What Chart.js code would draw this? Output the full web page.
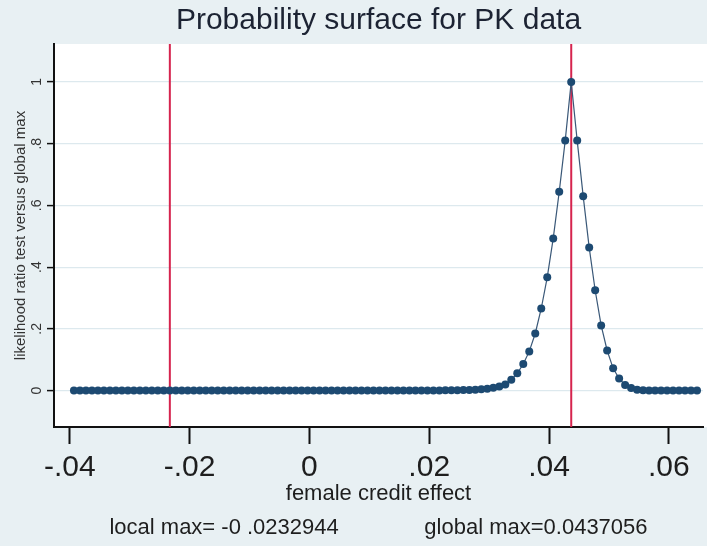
<!DOCTYPE html>
<html>
<head>
<meta charset="utf-8">
<script src="https://cdn.jsdelivr.net/npm/chart.js@4.4.0/dist/chart.umd.min.js"></script>
<style>
  html, body { margin: 0; padding: 0; background: #e8f0f3; }
  canvas { display: block; }
</style>
</head>
<body>
<canvas id="chart" width="707" height="546"></canvas>
<script>
// values
const effect = [
    -0.0393, -0.0383, -0.0373, -0.0363, -0.0353, -0.0343, -0.0333, -0.0323, -0.0313, -0.0303,
    -0.0293, -0.0283, -0.0273, -0.0263, -0.0253, -0.0243, -0.0233, -0.0223, -0.0213, -0.0203,
    -0.0193, -0.0183, -0.0173, -0.0163, -0.0153, -0.0143, -0.0133, -0.0123, -0.0113, -0.0103,
    -0.0093, -0.0083, -0.0073, -0.0063, -0.0053, -0.0043, -0.0033, -0.0023, -0.0013, -0.0003,
    0.0007, 0.0017, 0.0027, 0.0037, 0.0047, 0.0057, 0.0067, 0.0077, 0.0087, 0.0097,
    0.0107, 0.0117, 0.0127, 0.0137, 0.0147, 0.0157, 0.0167, 0.0177, 0.0187, 0.0197,
    0.0207, 0.0217, 0.0227, 0.0237, 0.0247, 0.0257, 0.0267, 0.0277, 0.0287, 0.0297,
    0.0307, 0.0317, 0.0327, 0.0337, 0.0347, 0.0357, 0.0367, 0.0377, 0.0387, 0.0397,
    0.0407, 0.0417, 0.0427, 0.0437, 0.0447, 0.0457, 0.0467, 0.0477, 0.0487, 0.0497,
    0.0507, 0.0517, 0.0527, 0.0537, 0.0547, 0.0557, 0.0567, 0.0577, 0.0587, 0.0597,
    0.0607, 0.0617, 0.0627, 0.0637, 0.0647
];
const lrTest = [
    0, 0, 0, 0, 0, 0, 0, 0, 0, 0,
    0, 0, 0, 0, 0, 0, 0, 0, 0, 0,
    0, 0, 0, 0, 0, 0, 0, 0, 0, 0,
    0, 0, 0, 0, 0, 0, 0, 0, 0, 0,
    0, 0, 0, 0, 0, 0, 0, 0, 0, 0,
    0, 0, 0, 0, 0, 0.0001, 0.0001, 0.0002, 0.0003, 0.0004,
    0.0005, 0.0006, 0.0007, 0.0008, 0.001, 0.0015, 0.002, 0.003, 0.004, 0.006,
    0.009, 0.013, 0.02, 0.035, 0.056, 0.086, 0.127, 0.185, 0.266, 0.367,
    0.493, 0.644, 0.81, 1, 0.81, 0.63, 0.464, 0.325, 0.211, 0.13,
    0.072, 0.039, 0.018, 0.008, 0.003, 0.0012, 0.0005, 0.0002, 0, 0,
    0, 0, 0, 0, 0
];
const localMax = -0.0232944;
const globalMax = 0.0437056;
const xTicks = [-0.04, -0.02, 0, 0.02, 0.04, 0.06];
const xTickLabels = ['-.04', '-.02', '0', '.02', '.04', '.06'];
const yTicks = [0, 0.2, 0.4, 0.6, 0.8, 1];
const yTickLabels = ['0', '.2', '.4', '.6', '.8', '1'];

const X_MIN = -0.04263, X_MAX = 0.0657;
const Y_MIN = -0.118, Y_MAX = 1.123;

// grey outer background, white plot region
const backgrounds = {
    id: 'backgrounds',
    beforeDraw(chart) {
        const { ctx, chartArea: a } = chart;
        ctx.save();
        ctx.fillStyle = '#e8f0f3';
        ctx.fillRect(0, 0, chart.width, chart.height);
        ctx.fillStyle = '#ffffff';
        ctx.fillRect(a.left, a.top, chart.width - a.left, a.bottom - a.top);
        ctx.restore();
    }
};

const vline = (x) => [{ x: x, y: Y_MIN }, { x: x, y: Y_MAX }];

new Chart(document.getElementById('chart'), {
    type: 'scatter',
    data: {
        datasets: [
            {
                data: effect.map((x, i) => ({ x: x, y: lrTest[i] })),
                showLine: true,
                borderColor: '#3a5878',
                borderWidth: 1.2,
                pointRadius: 4,
                pointBorderWidth: 0,
                pointBackgroundColor: '#1d4a72'
            },
            {
                data: vline(localMax),
                showLine: true,
                borderColor: '#d6244e',
                borderWidth: 2,
                pointRadius: 0
            },
            {
                data: vline(globalMax),
                showLine: true,
                borderColor: '#d6244e',
                borderWidth: 2,
                pointRadius: 0
            }
        ]
    },
    options: {
        responsive: false,
        devicePixelRatio: 1,
        animation: false,
        layout: { padding: 0 },
        plugins: {
            legend: { display: false },
            tooltip: { enabled: false },
            title: {
                display: true,
                text: 'Probability surface for PK data',
                fullSize: false,
                color: '#1c2333',
                font: { family: 'Liberation Sans, Arial, sans-serif', size: 30, weight: 'normal' },
                padding: { top: 3, bottom: 5 }
            },
            subtitle: {
                display: true,
                position: 'bottom',
                fullSize: false,
                text: 'local max= -0 .0232944\u00a0\u00a0\u00a0\u00a0\u00a0\u00a0\u00a0\u00a0\u00a0\u00a0\u00a0\u00a0\u00a0\u00a0global max=0.0437056',
                color: '#1e1e1e',
                font: { family: 'Liberation Sans, Arial, sans-serif', size: 22 },
                padding: { top: 3, bottom: 5 }
            }
        },
        scales: {
            x: {
                type: 'linear',
                min: X_MIN,
                max: X_MAX,
                afterFit(scale) { scale.height = 84.6; },
                afterBuildTicks(axis) { axis.ticks = xTicks.map(v => ({ value: v })); },
                border: { color: '#111', width: 2 },
                grid: {
                    drawOnChartArea: false,
                    tickColor: '#111',
                    tickLength: 17,
                    tickWidth: 2
                },
                ticks: {
                    autoSkip: false,
                    maxRotation: 0,
                    padding: 6,
                    color: '#1e1e1e',
                    font: { family: 'Liberation Sans, Arial, sans-serif', size: 30 },
                    callback: (v) => xTickLabels[xTicks.indexOf(v)]
                },
                title: {
                    display: true,
                    text: 'female credit effect',
                    color: '#1e1e1e',
                    font: { family: 'Liberation Sans, Arial, sans-serif', size: 22 },
                    padding: { top: 0, bottom: 4 }
                }
            },
            y: {
                type: 'linear',
                min: Y_MIN,
                max: Y_MAX,
                afterFit(scale) { scale.width = 54; },
                afterBuildTicks(axis) { axis.ticks = yTicks.map(v => ({ value: v })); },
                border: { color: '#111', width: 2 },
                grid: {
                    color: '#dde9ee',
                    lineWidth: 1.2,
                    tickColor: '#111',
                    tickLength: 7,
                    tickWidth: 1.5
                },
                ticks: {
                    autoSkip: false,
                    minRotation: 90,
                    maxRotation: 90,
                    crossAlign: 'center',
                    padding: 4,
                    color: '#333',
                    font: { family: 'Liberation Sans, Arial, sans-serif', size: 14 },
                    callback: (v) => yTickLabels[yTicks.indexOf(v)]
                },
                title: {
                    display: true,
                    text: 'likelihood ratio test versus global max',
                    color: '#333',
                    font: { family: 'Liberation Sans, Arial, sans-serif', size: 15 },
                    padding: { top: 12, bottom: 0 }
                }
            }
        }
    },
    plugins: [backgrounds]
});
</script>
</body>
</html>
